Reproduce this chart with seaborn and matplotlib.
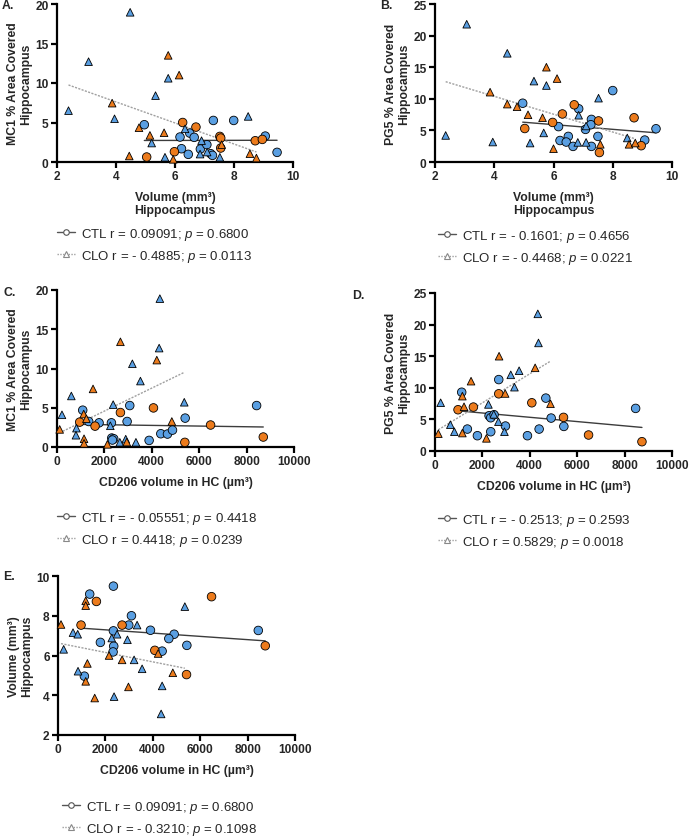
import matplotlib
matplotlib.use("Agg")
import matplotlib.pyplot as plt
import seaborn as sns
import pandas as pd
from matplotlib.lines import Line2D

# ---------- data (x, y) ----------
# A: volume vs MC1
a_ctl_blue = [(4.96, 4.72), (6.17, 3.16), (6.22, 1.68), (6.5, 3.66), (6.65, 3.12), (6.45, 0.97), (6.86, 1.64),
              (7.08, 2.19), (7.3, 5.26), (7.21, 1.05), (7.27, 0.84), (7.99, 5.26), (9.06, 3.28), (9.46, 1.22)]
a_ctl_orange = [(6.26, 5.0), (6.71, 4.42), (7.52, 3.24), (7.55, 3.03), (7.55, 1.77), (5.98, 1.3), (5.04, 0.63),
                (8.72, 2.69), (8.96, 2.86)]
a_clo_blue = [(4.48, 18.95), (3.07, 12.7), (2.39, 6.5), (3.95, 5.47), (5.34, 8.4), (5.77, 10.6), (6.34, 4.2),
              (5.21, 2.4), (5.66, 0.6), (6.9, 2.7), (6.85, 1.0), (7.09, 1.26), (7.52, 0.6), (8.48, 5.77)]
a_clo_orange = [(5.77, 13.5), (6.14, 11.0), (3.87, 7.45), (4.78, 4.34), (5.15, 3.37), (5.63, 3.7), (4.45, 0.76),
                (5.94, 0.34), (7.58, 2.19), (8.54, 1.05), (8.76, 0.5)]

# B: volume vs PG5
b_ctl_blue = [(4.96, 9.3), (6.17, 5.6), (6.22, 3.4), (6.5, 4.05), (6.43, 3.16), (6.66, 2.47), (6.85, 8.42),
              (7.08, 5.16), (7.28, 6.74), (7.26, 5.9), (7.28, 2.47), (7.5, 4.05), (8.0, 11.3), (9.08, 3.47),
              (9.46, 5.26)]
b_ctl_orange = [(5.03, 5.3), (5.97, 6.26), (6.3, 7.6), (6.7, 9.05), (7.52, 6.5), (7.55, 1.5), (8.72, 7.0),
                (8.96, 2.58)]
b_clo_blue = [(3.07, 21.8), (4.44, 17.2), (2.36, 4.2), (3.95, 3.16), (5.34, 12.8), (5.76, 12.1), (5.21, 3.0),
              (5.67, 4.6), (6.85, 7.4), (6.82, 3.1), (7.1, 3.1), (7.1, 5.7), (7.52, 10.1), (8.49, 3.8)]
b_clo_orange = [(5.76, 15.0), (6.12, 13.2), (3.86, 11.05), (4.44, 9.16), (4.77, 8.74), (5.14, 7.47), (5.63, 7.0),
                (6.0, 2.1), (7.58, 2.8), (8.55, 2.8), (8.76, 3.0)]

# C: CD206 vs MC1
c_ctl_blue = [(1085, 4.69), (1338, 3.25), (1775, 3.08), (2296, 3.08), (2310, 1.14), (2394, 1.05), (2338, 0.89),
              (3070, 5.28), (2958, 3.25), (3887, 0.84), (4380, 1.69), (4662, 1.65), (4873, 2.15), (5408, 3.68),
              (8422, 5.28)]
c_ctl_orange = [(2676, 4.39), (4070, 4.98), (958, 3.17), (1606, 2.66), (5394, 0.59), (6480, 2.8), (8704, 1.27)]
c_clo_blue = [(4340, 18.9), (4310, 12.6), (3180, 10.6), (3520, 8.4), (210, 4.1), (605, 6.5), (2370, 5.4),
              (5370, 5.7), (820, 2.4), (800, 1.5), (2250, 2.7), (2650, 0.6), (3330, 0.6), (2900, 1.0)]
c_clo_orange = [(2676, 13.4), (4211, 11.07), (1521, 7.4), (1127, 4.2), (1240, 3.6), (113, 2.24), (1141, 1.05),
                (1141, 0.46), (2127, 0.34), (2944, 0.63), (4845, 3.25)]

# D: CD206 vs PG5
d_ctl_blue = [(1127, 9.3), (2690, 11.3), (2282, 5.58), (2352, 5.26), (2493, 5.74), (1366, 3.47), (1789, 2.42),
              (2352, 3.05), (2972, 3.95), (3901, 2.42), (4394, 3.47), (4676, 8.37), (4901, 5.21), (5437, 3.89),
              (8465, 6.74)]
d_ctl_orange = [(972, 6.53), (1620, 6.95), (2690, 9.05), (4085, 7.63), (5423, 5.32), (6479, 2.53), (8732, 1.47)]
d_clo_blue = [(4338, 21.7), (4366, 17.1), (3549, 12.7), (3197, 12.05), (3352, 10.1), (2254, 7.37), (239, 7.63),
              (648, 4.16), (817, 3.05), (2676, 4.63), (2930, 3.05), (2479, 5.8)]
d_clo_orange = [(2704, 15.0), (4225, 13.16), (1521, 11.05), (1155, 8.68), (1225, 7.0), (2960, 9.1), (4873, 7.47),
                (141, 2.74), (1155, 2.84), (2169, 2.0)]

# E: CD206 vs volume
e_ctl_blue = [(2338, 9.49), (1338, 9.09), (3099, 8.0), (8451, 7.26), (2338, 7.24), (2986, 7.53), (3901, 7.27),
              (4901, 7.07), (4676, 6.85), (1789, 6.66), (2352, 6.47), (2324, 6.18), (4394, 6.22), (5437, 6.51),
              (1113, 4.96)]
e_ctl_orange = [(1620, 8.72), (6479, 8.96), (972, 7.53), (2704, 7.53), (4085, 6.26), (8746, 6.49), (5423, 5.04)]
e_clo_blue = [(5352, 8.46), (3338, 7.53), (634, 7.15), (831, 7.07), (2493, 7.07), (2268, 6.88), (2930, 6.79),
              (239, 6.31), (3211, 5.78), (3549, 5.33), (845, 5.21), (4394, 4.47), (2366, 3.93), (4352, 3.06)]
e_clo_orange = [(127, 7.56), (1169, 8.75), (1169, 8.51), (2155, 6.0), (2704, 5.78), (1240, 5.6), (1169, 4.7),
                (1549, 3.86), (2972, 4.42), (4225, 6.1), (4845, 5.13)]

legend_texts = {
    "A": ["CTL r = 0.09091; $p$ = 0.6800", "CLO r = - 0.4885; $p$ = 0.0113"],
    "B": ["CTL r = - 0.1601; $p$ = 0.4656", "CLO r = - 0.4468; $p$ = 0.0221"],
    "C": ["CTL r = - 0.05551; $p$ = 0.4418", "CLO r = 0.4418; $p$ = 0.0239"],
    "D": ["CTL r = - 0.2513; $p$ = 0.2593", "CLO r = 0.5829; $p$ = 0.0018"],
    "E": ["CTL r = 0.09091; $p$ = 0.6800", "CLO r = - 0.3210; $p$ = 0.1098"],
}
# ----------------------------------------------------------

BLUE = "#5A9FE2"
ORANGE = "#EC7B1C"
W, H = 689, 837

sns.set_style("ticks")
plt.rcParams["font.family"] = ["Liberation Sans", "DejaVu Sans"]
plt.rcParams["mathtext.fontset"] = "custom"
plt.rcParams["mathtext.rm"] = "Liberation Sans"
plt.rcParams["mathtext.it"] = "Liberation Sans:italic"
plt.rcParams["mathtext.bf"] = "Liberation Sans:bold"

fig = plt.figure(figsize=(W / 100, H / 100), dpi=100)


def make_df(ctl_blue, ctl_orange, clo_blue, clo_orange):
    rows = []
    for grp, col, pts in [("CTL", "blue", ctl_blue), ("CTL", "orange", ctl_orange),
                          ("CLO", "blue", clo_blue), ("CLO", "orange", clo_orange)]:
        for x, y in pts:
            rows.append({"x": x, "y": y, "group": grp, "colour": col})
    return pd.DataFrame(rows)


def px_axes(left, top, right, bottom):
    return fig.add_axes([left / W, 1 - bottom / H, (right - left) / W, (bottom - top) / H])


panels = [
    # letter, data, box(l,t,r,b), xlim, xticks, ylim, yticks, xlabel, ylabel, legend (x, y), letter pos
    ("A", make_df(a_ctl_blue, a_ctl_orange, a_clo_blue, a_clo_orange), (57, 5, 293, 163),
     (2, 10), [2, 4, 6, 8, 10], (0, 20), [0, 5, 10, 15, 20],
     "Volume (mm³)\nHippocampus", "MC1 % Area Covered\nHippocampus", (57, 227), (2, 6)),
    ("B", make_df(b_ctl_blue, b_ctl_orange, b_clo_blue, b_clo_orange), (435, 5, 672, 163),
     (2, 10), [2, 4, 6, 8, 10], (0, 25), [0, 5, 10, 15, 20, 25],
     "Volume (mm³)\nHippocampus", "PG5 % Area Covered\nHippocampus", (438, 229), (380, 6)),
    ("C", make_df(c_ctl_blue, c_ctl_orange, c_clo_blue, c_clo_orange), (57, 291, 294, 448),
     (0, 10000), [0, 2000, 4000, 6000, 8000, 10000], (0, 20), [0, 5, 10, 15, 20],
     "CD206 volume in HC (µm³)", "MC1 % Area Covered\nHippocampus", (57, 511), (3, 293)),
    ("D", make_df(d_ctl_blue, d_ctl_orange, d_clo_blue, d_clo_orange), (435, 294, 672, 452),
     (0, 10000), [0, 2000, 4000, 6000, 8000, 10000], (0, 25), [0, 5, 10, 15, 20, 25],
     "CD206 volume in HC (µm³)", "PG5 % Area Covered\nHippocampus", (438, 513), (352, 296)),
    ("E", make_df(e_ctl_blue, e_ctl_orange, e_clo_blue, e_clo_orange), (58, 577, 295, 736),
     (0, 10000), [0, 2000, 4000, 6000, 8000, 10000], (2, 10), [2, 4, 6, 8, 10],
     "CD206 volume in HC (µm³)", "Volume (mm³)\nHippocampus", (62, 800), (3, 577)),
]

for letter, df, box, xlim, xticks, ylim, yticks, xlabel, ylabel, leg_pos, let_pos in panels:
    ax = px_axes(*box)
    # fitted lines per group
    sns.regplot(data=df[df["group"] == "CTL"], x="x", y="y", scatter=False, ci=None, ax=ax,
                line_kws={"color": "#3c3c3c", "lw": 1.0, "zorder": 2})
    sns.regplot(data=df[df["group"] == "CLO"], x="x", y="y", scatter=False, ci=None, ax=ax,
                line_kws={"color": "#a0a0a0", "lw": 1.0, "ls": (0, (1.5, 1)), "zorder": 2})
    for grp, mk, size in [("CTL", "o", 38), ("CLO", "^", 30)]:
        sns.scatterplot(data=df[df["group"] == grp], x="x", y="y", hue="colour",
                        palette={"blue": BLUE, "orange": ORANGE}, marker=mk, s=size,
                        edgecolor="black", linewidth=0.6, legend=False, ax=ax, zorder=3, clip_on=False)

    ax.set_xlim(*xlim)
    ax.set_ylim(*ylim)
    ax.set_xticks(xticks)
    ax.set_yticks(yticks)
    sns.despine(ax=ax)
    for sp in ["left", "bottom"]:
        ax.spines[sp].set_linewidth(1.6)
        ax.spines[sp].set_color("black")
    ax.tick_params(width=1.6, length=4, color="black", labelsize=8.6, pad=2)
    for lab in ax.get_xticklabels() + ax.get_yticklabels():
        lab.set_fontweight("bold")
    ax.set_xlabel(xlabel, fontsize=8.8, fontweight="bold", labelpad=6, linespacing=1.15)
    ax.set_ylabel(ylabel, fontsize=8.8, fontweight="bold", labelpad=2, linespacing=1.15)

    fig.text(let_pos[0] / W, 1 - let_pos[1] / H, letter + ".", fontsize=8.8, fontweight="bold",
             va="center", ha="left")

    handles = [
        Line2D([0], [0], color="#555555", lw=1.0, marker="o", ms=4, mfc="white", mec="#555555", mew=0.8),
        Line2D([0], [0], color="#a0a0a0", lw=1.0, ls=(0, (1, 1)), marker="^", ms=4, mfc="white",
               mec="#888888", mew=0.8),
    ]
    ax.legend(handles=handles, labels=legend_texts[letter], loc="upper left",
              bbox_to_anchor=(leg_pos[0] / W, 1 - leg_pos[1] / H), bbox_transform=fig.transFigure,
              frameon=False, fontsize=9.5, handlelength=1.4, handletextpad=0.4, labelspacing=0.45,
              borderpad=0, borderaxespad=0)

fig.savefig("out.png", dpi=100)
